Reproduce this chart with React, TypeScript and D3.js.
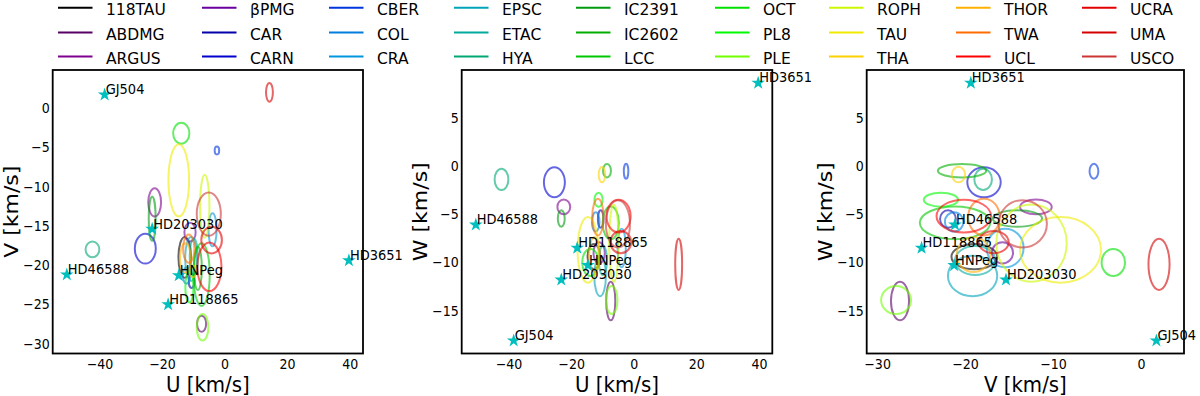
import React from 'react';
import * as d3 from 'd3';

// moving groups, in legend order
const groups = [
  '118TAU', 'ABDMG', 'ARGUS', 'βPMG', 'CAR', 'CARN', 'CBER', 'COL', 'CRA',
  'EPSC', 'ETAC', 'HYA', 'IC2391', 'IC2602', 'LCC', 'OCT', 'PL8', 'PLE',
  'ROPH', 'TAU', 'THA', 'THOR', 'TWA', 'UCL', 'UCRA', 'UMA', 'USCO',
];
// group centres (km/s)
const groupU = [-12.9, -7.5, -22.5, -11.2, -10.7, -25.5, -2.6, -12.3, -4.0, -10.9, -10.0, -42.4, -23.3, -8.7, -7.5, -14.0, -11.4, -7.2, -6.5, -14.8, -10.3, -12.7, -11.6, -5.0, -4.3, 14.2, -5.2];
const groupV = [-19.0, -27.45, -12.0, -15.8, -22.0, -17.9, -5.4, -21.3, -15.5, -19.2, -18.9, -18.0, -14.1, -20.4, -21.2, -3.2, -22.8, -27.9, -12.5, -9.2, -20.8, -19.1, -17.9, -20.2, -16.8, 2.0, -13.5];
const groupW = [-9.4, -14.0, -4.25, -9.0, -5.5, -1.7, -0.55, -5.8, -8.5, -11.4, -9.8, -1.4, -5.45, -0.5, -5.9, -10.0, -3.5, -13.9, -8.0, -8.7, -0.9, -9.2, -5.3, -5.2, -7.9, -10.2, -6.0];
// group spreads (km/s)
const sigU = [2.0, 1.45, 2.05, 1.8, 0.9, 3.35, 0.72, 1.2, 1.3, 1.85, 1.3, 2.2, 1.1, 1.27, 2.6, 2.6, 1.3, 1.86, 1.5, 3.3, 1.05, 1.7, 1.8, 3.85, 3.3, 1.1, 3.85];
const sigV = [2.6, 1.03, 1.8, 1.2, 0.9, 1.9, 0.5, 1.05, 2.1, 2.8, 2.3, 1.0, 2.8, 2.75, 4.0, 1.33, 1.95, 1.7, 4.0, 4.6, 0.75, 1.9, 1.8, 3.1, 1.7, 1.2, 2.75];
const sigW = [1.3, 2.0, 0.77, 1.1, 0.9, 1.55, 0.78, 1.0, 2.0, 2.1, 1.5, 1.1, 0.86, 0.69, 1.7, 1.4, 0.73, 1.45, 4.0, 3.4, 0.8, 1.8, 1.9, 1.7, 1.15, 2.65, 2.45];

// target stars
const stars = ['GJ504', 'HD203030', 'HD46588', 'HNPeg', 'HD118865', 'HD3651'];
const starU = [-38.5, -23.3, -50.6, -14.8, -18.2, 39.6];
const starV = [1.7, -15.4, -21.2, -21.3, -25.0, -19.4];
const starW = [-18.1, -11.8, -6.1, -10.3, -8.5, 8.6];

const uTicks = [-40, -20, 0, 20, 40];
const vTicks = [0, -5, -10, -15, -20, -25, -30];
const vTicksWide = [-30, -20, -10, 0];
const wTicks = [5, 0, -5, -10, -15];

// nipy_spectral colormap
const nipyStops = d3.range(21).map(i => i / 20);
const nipyColors = [
  '#000000', '#770088', '#880099', '#0000aa', '#0000dd', '#0077dd', '#0099dd', '#00aaaa',
  '#00aa88', '#009900', '#00bb00', '#00dd00', '#00ff00', '#bbff00', '#eeee00', '#ffcc00',
  '#ff9900', '#ff0000', '#dd0000', '#cc0000', '#cccccc',
];
const cmap = d3.scaleLinear<string>().domain(nipyStops).range(nipyColors).interpolate(d3.interpolateRgb);
const groupColor = (i: number) => cmap(i / groups.length);

const FONT = 'DejaVu Sans';
const TOP = 70;
const BOTTOM = 353.5;

const legendCols = [58, 202, 329, 454, 576, 715, 829, 956, 1082];
const legendRows = [7.7, 32.5, 56.6];

const fmt = (v: number) => (v < 0 ? '\u2212' + Math.abs(v) : String(v));

function Label({ x, y, size, anchor = 'start', sx = 0.93, children }: any) {
  return (
    <text
      transform={`translate(${x},${y}) scale(${sx},1)`}
      fontSize={size}
      fontFamily={FONT}
      textAnchor={anchor}
      fill="#000"
    >
      {children}
    </text>
  );
}

const withMargin = (lo: number, hi: number) => {
  const m = (hi - lo) * 0.05;
  return [lo - m, hi + m];
};

function Panel({ p }: any) {
  const xLo = d3.min([...p.xs.map((v: number, i: number) => v - p.sx[i]), ...p.starX]) as number;
  const xHi = d3.max([...p.xs.map((v: number, i: number) => v + p.sx[i]), ...p.starX]) as number;
  const yLo = d3.min([...p.ys.map((v: number, i: number) => v - p.sy[i]), ...p.starY]) as number;
  const yHi = d3.max([...p.ys.map((v: number, i: number) => v + p.sy[i]), ...p.starY]) as number;

  const x = d3.scaleLinear().domain(withMargin(xLo, xHi)).range([p.left, p.right]);
  const y = d3.scaleLinear().domain(withMargin(yLo, yHi)).range([BOTTOM, TOP]);
  const starPath = d3.symbol(d3.symbolStar, 58)() as string;
  const clipId = `clip-${p.key}`;

  return (
    <g>
      <defs>
        <clipPath id={clipId}>
          <rect x={p.left} y={TOP} width={p.right - p.left} height={BOTTOM - TOP} />
        </clipPath>
      </defs>
      <g clipPath={`url(#${clipId})`}>
        {groups.map((g, i) => (
          <ellipse
            key={g}
            cx={x(p.xs[i])}
            cy={y(p.ys[i])}
            rx={Math.abs(x(p.xs[i] + p.sx[i]) - x(p.xs[i]))}
            ry={Math.abs(y(p.ys[i] + p.sy[i]) - y(p.ys[i]))}
            fill="none"
            stroke={groupColor(i)}
            strokeWidth={2}
            strokeOpacity={0.6}
          />
        ))}
        {stars.map((s, i) => (
          <path key={s} d={starPath} transform={`translate(${x(p.starX[i])},${y(p.starY[i])})`} fill="#00bfbf" />
        ))}
      </g>
      {stars.map((s, i) => (
        <Label key={s} x={x(p.starX[i]) + 1} y={y(p.starY[i]) - 0.5} size={13.7} sx={0.95}>{s}</Label>
      ))}
      <rect x={p.left} y={TOP} width={p.right - p.left} height={BOTTOM - TOP} fill="none" stroke="#000" strokeWidth={1.8} />
      {p.xTicks.map((t: number) => (
        <Label key={t} x={x(t)} y={BOTTOM + 15.3} size={13.7} anchor="middle" sx={0.92}>{fmt(t)}</Label>
      ))}
      {p.yTicks.map((t: number) => (
        <Label key={t} x={p.left - 3} y={y(t) + 5} size={13.7} anchor="end" sx={0.92}>{fmt(t)}</Label>
      ))}
      <Label x={(p.left + p.right) / 2} y={391.5} size={22} anchor="middle" sx={0.9}>{p.xLabel}</Label>
      <text
        transform={`translate(${p.left - 35},${(TOP + BOTTOM) / 2}) rotate(-90) scale(1,0.9)`}
        fontSize={22}
        fontFamily={FONT}
        textAnchor="middle"
      >
        {p.yLabel}
      </text>
    </g>
  );
}

const panels = [
  { key: 'uv', left: 52.7, right: 363, xs: groupU, ys: groupV, sx: sigU, sy: sigV, starX: starU, starY: starV, xTicks: uTicks, yTicks: vTicks, xLabel: 'U [km/s]', yLabel: 'V [km/s]' },
  { key: 'uw', left: 461.7, right: 772.3, xs: groupU, ys: groupW, sx: sigU, sy: sigW, starX: starU, starY: starW, xTicks: uTicks, yTicks: wTicks, xLabel: 'U [km/s]', yLabel: 'W [km/s]' },
  { key: 'vw', left: 866.7, right: 1184, xs: groupV, ys: groupW, sx: sigV, sy: sigW, starX: starV, starY: starW, xTicks: vTicksWide, yTicks: wTicks, xLabel: 'V [km/s]', yLabel: 'W [km/s]' },
];

export default function App() {
  return (
    <svg width={1200} height={396} style={{ position: 'absolute', left: 0, top: 0, background: '#fff' }}>
      <rect width={1200} height={396} fill="#fff" />
      {/* legend, column-major like matplotlib ncol=9 */}
      {groups.map((g, i) => {
        const cx = legendCols[Math.floor(i / 3)];
        const cy = legendRows[i % 3];
        return (
          <g key={g}>
            <line x1={cx} x2={cx + 34.5} y1={cy} y2={cy} stroke={groupColor(i)} strokeWidth={2} />
            <Label x={cx + 48} y={cy + 7.6} size={16.5} sx={0.94}>{g}</Label>
          </g>
        );
      })}
      {panels.map(p => (
        <Panel key={p.key} p={p} />
      ))}
    </svg>
  );
}
